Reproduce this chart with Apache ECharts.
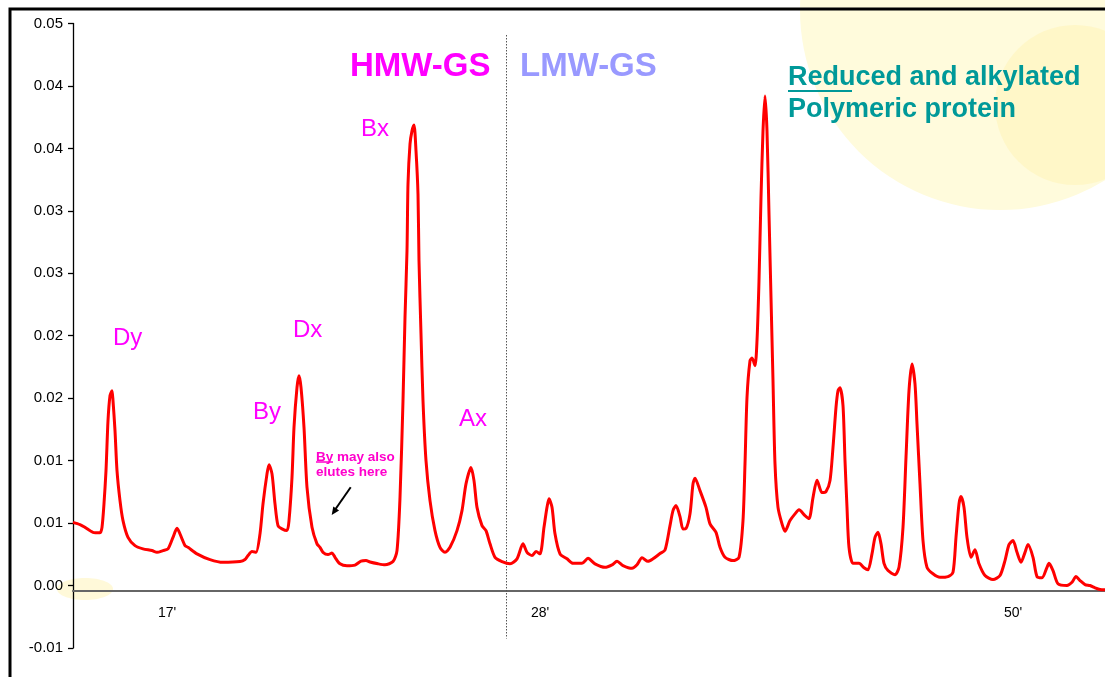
<!DOCTYPE html>
<html>
<head>
<meta charset="utf-8">
<script src="https://cdn.jsdelivr.net/npm/echarts@6/dist/echarts.min.js"></script>
<style>
  html, body { margin: 0; padding: 0; background: #ffffff; }
  #chart { width: 1105px; height: 677px; }
</style>
</head>
<body>
<div id="chart"></div>
<script>
// ---- data (position along elution axis, absorbance) ----
const elutionPos = [
  0, 7, 12, 20, 27, 29, 31, 33, 35, 37, 39, 40, 42, 44, 47, 50, 55, 62, 70, 79,
  84, 90, 95, 100, 104, 109, 112, 115, 124, 137, 150, 167, 172, 175, 179, 183, 187, 190, 194, 196,
  199, 202, 205, 209, 214, 216, 219, 221, 224, 226, 228, 231, 234, 239, 244, 247, 250, 255, 259, 262,
  267, 274, 282, 288, 293, 297, 305, 312, 320, 324, 327, 330, 332, 334, 335, 337, 339, 341, 343, 345,
  346, 348, 350, 353, 357, 362, 367, 372, 377, 384, 389, 393, 398, 401, 404, 409, 413, 417, 422, 429,
  437, 444, 450, 454, 459, 463, 467, 471, 474, 476, 479, 482, 487, 494, 500, 509, 515, 522, 532, 539,
  544, 550, 559, 564, 569, 575, 580, 587, 592, 597, 600, 603, 607, 610, 613, 617, 620, 622, 627, 633,
  637, 643, 647, 652, 660, 666, 670, 672, 674, 677, 679, 682, 684, 686, 688, 690, 692, 694, 696, 698,
  700, 702, 705, 709, 712, 717, 722, 726, 732, 736, 740, 744, 749, 753, 757, 760, 763, 765, 767, 770,
  772, 774, 776, 780, 786, 791, 795, 799, 802, 805, 808, 811, 815, 822, 826, 830, 833, 836, 839, 842,
  844, 847, 850, 854, 860, 867, 875, 880, 883, 886, 888, 891, 894, 898, 902, 906, 912, 920, 927, 932,
  936, 940, 944, 948, 952, 955, 960, 964, 969, 974, 976, 980, 985, 994, 999, 1003, 1007, 1012, 1017, 1022,
  1027, 1032
];
const absorbance = [
  0.00506, 0.00488, 0.00466, 0.00426, 0.00422, 0.00466, 0.00656, 0.0092, 0.0132, 0.0152, 0.0156, 0.0148, 0.0124, 0.0092, 0.0068, 0.0052, 0.00386, 0.0032, 0.00294, 0.0028,
  0.00266, 0.0028, 0.00294, 0.00386, 0.00458, 0.00374, 0.0032, 0.00306, 0.00254, 0.00208, 0.00186, 0.00192, 0.00208, 0.0024, 0.00272, 0.00266, 0.00414, 0.00654, 0.00894, 0.00968,
  0.00894, 0.00654, 0.0048, 0.00454, 0.0044, 0.0052, 0.00866, 0.01266, 0.01586, 0.0168, 0.01586, 0.01266, 0.00786, 0.00466, 0.00334, 0.00306, 0.00266, 0.00248, 0.0026, 0.00226,
  0.00174, 0.00158, 0.00164, 0.00196, 0.002, 0.00188, 0.00174, 0.00166, 0.00192, 0.0028, 0.00704, 0.0148, 0.02146, 0.0268, 0.03214, 0.03534, 0.0364, 0.03688, 0.0348, 0.03134,
  0.026, 0.02014, 0.0148, 0.01, 0.0068, 0.0044, 0.00306, 0.00266, 0.00306, 0.0044, 0.006, 0.00814, 0.00946, 0.0084, 0.00626, 0.0048, 0.0044, 0.00334, 0.00226, 0.00192,
  0.00174, 0.00214, 0.00334, 0.00266, 0.0024, 0.00272, 0.00254, 0.00466, 0.00626, 0.00694, 0.00626, 0.00414, 0.00254, 0.00214, 0.00178, 0.00178, 0.00218, 0.00174, 0.00146, 0.00166,
  0.00194, 0.0016, 0.00138, 0.00166, 0.00222, 0.00194, 0.00214, 0.00256, 0.00284, 0.0048, 0.006, 0.0064, 0.00552, 0.00452, 0.00456, 0.00574, 0.00814, 0.0086, 0.0076, 0.00626,
  0.00494, 0.00426, 0.00306, 0.00226, 0.002, 0.00226, 0.0052, 0.00974, 0.01506, 0.018, 0.01822, 0.0176, 0.0196, 0.0244, 0.03106, 0.0364, 0.0392, 0.0364, 0.02974, 0.02306,
  0.0164, 0.00974, 0.00626, 0.00494, 0.00434, 0.0052, 0.00574, 0.00606, 0.0056, 0.00536, 0.00704, 0.00844, 0.00744, 0.00752, 0.0084, 0.01106, 0.01426, 0.0156, 0.01584, 0.0144,
  0.01, 0.00626, 0.00306, 0.00178, 0.00178, 0.00142, 0.00126, 0.00254, 0.00386, 0.00426, 0.00334, 0.00178, 0.0012, 0.00086, 0.00146, 0.00466, 0.01026, 0.0156, 0.01774, 0.01614,
  0.01294, 0.00814, 0.0036, 0.00146, 0.00094, 0.00066, 0.00072, 0.00106, 0.00386, 0.00654, 0.00712, 0.00626, 0.00386, 0.00226, 0.00286, 0.00174, 0.0008, 0.00048, 0.0008, 0.002,
  0.00328, 0.0036, 0.00266, 0.00186, 0.00266, 0.00328, 0.00226, 0.00072, 0.00062, 0.00146, 0.00178, 0.0012, 0.00014, 0, 0.00026, 0.00072, 0.0004, 0.00008, 0, -0.00018,
  -0.00032, -0.00034
];

// axis ticks / labels
const yMin = -0.005, yMax = 0.045, yStep = 0.005;
const yTickLabels = ["-0.01", "0.00", "0.01", "0.01", "0.02", "0.02", "0.03", "0.03", "0.04", "0.04", "0.05"];
const xMin = 0, xMax = 1032;
const xTickPos = [94, 467, 940];
const xTickLabels = ["17'", "28'", "50'"];
const hmwLmwBoundary = 433;            // dotted divider between HMW-GS and LMW-GS
const dividerRange = [0.04408, -0.00424];

const seriesData = elutionPos.map((x, i) => [x, absorbance[i]]);

const FONT = '"Liberation Sans", Arial, sans-serif';
const chart = echarts.init(document.getElementById('chart'), null, { renderer: 'canvas' });

chart.setOption({
  animation: false,
  backgroundColor: '#ffffff',
  grid: { left: 73, right: 0, top: 23.5, bottom: 29 },
  xAxis: {
    type: 'value', min: xMin, max: xMax,
    offset: -57,
    axisLine: { show: true, onZero: false, lineStyle: { color: '#666666', width: 2.2 } },
    axisTick: { show: false },
    splitLine: { show: false },
    axisLabel: {
      customValues: xTickPos,
      margin: 15,
      color: '#000', fontFamily: FONT, fontSize: 14,
      formatter: v => xTickLabels[xTickPos.indexOf(Math.round(v))] || ''
    }
  },
  yAxis: {
    type: 'value', min: yMin, max: yMax, interval: yStep,
    axisLine: { show: true, lineStyle: { color: '#000', width: 1.3 } },
    axisTick: { show: true, length: 5, lineStyle: { color: '#000', width: 1.3 } },
    splitLine: { show: false },
    axisLabel: {
      margin: 10, color: '#000', fontFamily: FONT, fontSize: 15,
      formatter: v => yTickLabels[Math.round((v - yMin) / yStep)]
    }
  },
  series: [{
    type: 'line',
    data: seriesData,
    showSymbol: false,
    smooth: 0.25,
    lineStyle: { color: '#FF0000', width: 3 },
    z: 5,
    markLine: {
      silent: true, symbol: 'none', label: { show: false },
      lineStyle: { color: '#555', type: [1.5, 1.5], width: 1 },
      data: [[
        { coord: [hmwLmwBoundary, dividerRange[0]] },
        { coord: [hmwLmwBoundary, dividerRange[1]] }
      ]]
    }
  }],
  graphic: { elements: [
    // slide decorations
    { type: 'circle', z: -10, shape: { cx: 1000, cy: 10, r: 200 }, style: { fill: '#FFFBDC' } },
    { type: 'circle', z: -9, shape: { cx: 1075, cy: 105, r: 80 }, style: { fill: '#FFF4B8', opacity: 0.55 } },
    { type: 'ellipse', z: -10, shape: { cx: 85, cy: 589, rx: 28, ry: 11 }, style: { fill: '#FFF8D0', opacity: 0.8 } },
    // frame
    { type: 'rect', z: 10, shape: { x: 10, y: 9, width: 1200, height: 1000 }, style: { fill: 'none', stroke: '#000', lineWidth: 3 } },
    // section titles
    { type: 'text', z: 10, x: 350, y: 67, style: { text: 'HMW-GS', fill: '#FF00FF', font: 'bold 33px ' + FONT, textVerticalAlign: 'middle' } },
    { type: 'text', z: 10, x: 520, y: 67, style: { text: 'LMW-GS', fill: '#9999FF', font: 'bold 33px ' + FONT, textVerticalAlign: 'middle' } },
    { type: 'text', z: 10, x: 788, y: 78, style: { text: 'Reduced and alkylated', fill: '#009999', font: 'bold 27px ' + FONT, textVerticalAlign: 'middle' } },
    { type: 'text', z: 10, x: 788, y: 110, style: { text: 'Polymeric protein', fill: '#009999', font: 'bold 27px ' + FONT, textVerticalAlign: 'middle' } },
    { type: 'line', z: 10, shape: { x1: 788, y1: 91, x2: 852, y2: 91 }, style: { stroke: '#009999', lineWidth: 2 } },
    // peak labels
    { type: 'text', z: 10, x: 113, y: 338, style: { text: 'Dy', fill: '#FF00FF', font: '24px ' + FONT, textVerticalAlign: 'middle' } },
    { type: 'text', z: 10, x: 253, y: 412, style: { text: 'By', fill: '#FF00FF', font: '24px ' + FONT, textVerticalAlign: 'middle' } },
    { type: 'text', z: 10, x: 293, y: 330, style: { text: 'Dx', fill: '#FF00FF', font: '24px ' + FONT, textVerticalAlign: 'middle' } },
    { type: 'text', z: 10, x: 361, y: 129, style: { text: 'Bx', fill: '#FF00FF', font: '24px ' + FONT, textVerticalAlign: 'middle' } },
    { type: 'text', z: 10, x: 459, y: 419, style: { text: 'Ax', fill: '#FF00FF', font: '24px ' + FONT, textVerticalAlign: 'middle' } },
    // note
    { type: 'text', z: 10, x: 316, y: 457, style: { text: 'By may also', fill: '#FF00CC', font: 'bold 13.5px ' + FONT, textVerticalAlign: 'middle' } },
    { type: 'text', z: 10, x: 316, y: 472, style: { text: 'elutes here', fill: '#FF00CC', font: 'bold 13.5px ' + FONT, textVerticalAlign: 'middle' } },
    { type: 'line', z: 10, shape: { x1: 316, y1: 462, x2: 333, y2: 462 }, style: { stroke: '#FF00CC', lineWidth: 1.5 } },
    // arrow
    { type: 'line', z: 10, shape: { x1: 350.7, y1: 487.3, x2: 334.5, y2: 510.5 }, style: { stroke: '#000', lineWidth: 2 } },
    { type: 'polygon', z: 10, shape: { points: [[331.7, 515], [339.1, 510.4], [333.3, 506.4]] }, style: { fill: '#000' } }
  ] }
});
</script>
</body>
</html>
